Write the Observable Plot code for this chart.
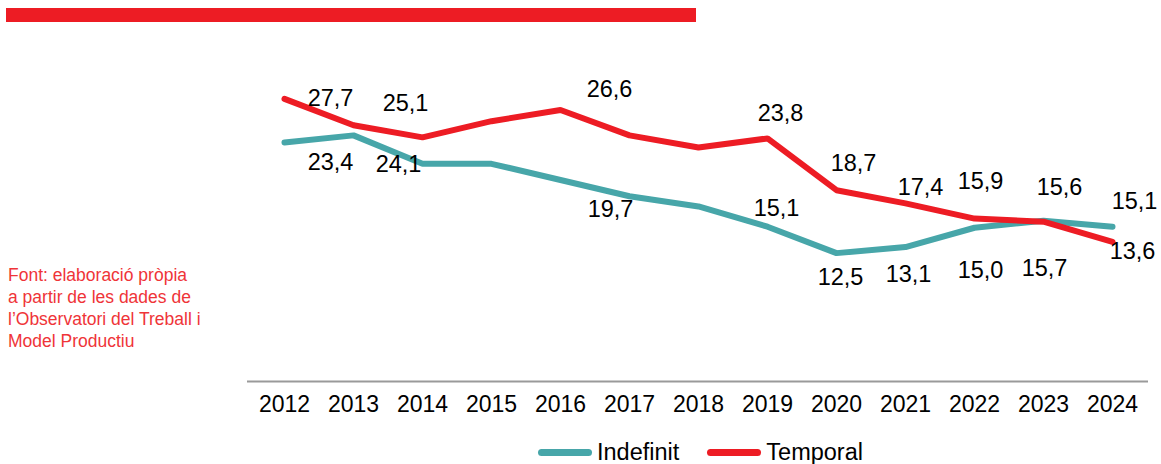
<!DOCTYPE html>
<html>
<head>
<meta charset="utf-8">
<script src="https://cdn.jsdelivr.net/npm/d3@7"></script>
<script src="https://cdn.jsdelivr.net/npm/@observablehq/plot@0.6"></script>
<style>
  html, body { margin: 0; padding: 0; background: #fff; }
  body { width: 1161px; height: 464px; position: relative; overflow: hidden;
         font-family: "Liberation Sans", Arial, Helvetica, sans-serif; }
  #bar { position: absolute; left: 6px; top: 8px; width: 690px; height: 14px; background: #ED1C24; }
  #chart { position: absolute; left: 0; top: 40px; }
  #note { position: absolute; left: 8px; top: 264px; color: #EF3438; font-size: 17.5px;
          line-height: 22px; font-weight: 300; }
  #legend { position: absolute; left: 538px; top: 439px; display: flex; align-items: center;
            font-size: 23.5px; color: #000; }
  .sw { display: inline-block; width: 54px; height: 7px; border-radius: 4px; margin-right: 5px; }
  .item { display: flex; align-items: center; margin-right: 28px; }
</style>
</head>
<body>
<div id="bar"></div>
<div id="chart"></div>
<div id="note">Font: elaboració pròpia<br>a partir de les dades de<br>l’Observatori del Treball i<br>Model Productiu</div>
<div id="legend"></div>
<script>
// ---- data ----
const years = [2012, 2013, 2014, 2015, 2016, 2017, 2018, 2019, 2020, 2021, 2022, 2023, 2024];
const indefinit = [23.4, 24.1, 21.3, 21.3, 19.7, 18.1, 17.1, 15.1, 12.5, 13.1, 15.0, 15.7, 15.1];
const temporal  = [27.7, 25.1, 23.9, 25.5, 26.6, 24.1, 22.9, 23.8, 18.7, 17.4, 15.9, 15.6, 13.6];
const labelYears = [2012, 2013, 2016, 2019, 2020, 2021, 2022, 2023, 2024];
const seriesNames = ["Indefinit", "Temporal"];

// ---- rendering ----
const colors = {Indefinit: "#47A6A9", Temporal: "#ED1C24"};
const rows = [];
seriesNames.forEach((s, si) => {
  const vals = si === 0 ? indefinit : temporal;
  years.forEach((y, i) => rows.push({series: s, year: y, value: vals[i]}));
});
const labelRows = rows.filter(d => labelYears.includes(d.year));

// label offsets relative to the data point (as placed in the original)
const off = {
  "Temporal-2012": [46, 0], "Temporal-2013": [52, -22], "Temporal-2016": [49, -21],
  "Temporal-2019": [13, -25], "Temporal-2020": [17, -27], "Temporal-2021": [15, -16],
  "Temporal-2022": [6, -37], "Temporal-2023": [16, -34], "Temporal-2024": [20, 10],
  "Indefinit-2012": [46, 20], "Indefinit-2013": [45, 29], "Indefinit-2016": [50, 29],
  "Indefinit-2019": [9, -18], "Indefinit-2020": [4, 24], "Indefinit-2021": [3, 27],
  "Indefinit-2022": [6, 43], "Indefinit-2023": [1, 48], "Indefinit-2024": [22, -25]
};
const fmt = v => d3.format(".1f")(v).replace(".", ",");

const textMarks = labelRows.map(d => {
  const o = off[d.series + "-" + d.year] || [0, 0];
  return Plot.text([d], {x: "year", y: "value", text: d => fmt(d.value),
    dx: o[0], dy: o[1], fontSize: 23.5, fill: "#000"});
});

const plot = Plot.plot({
  width: 1161,
  height: 380,
  marginLeft: 247,
  marginRight: 13,
  marginTop: 35,
  marginBottom: 40.5,
  style: {fontFamily: "'Liberation Sans', Arial, Helvetica, sans-serif", fontSize: "23px", color: "#000", background: "transparent"},
  x: {type: "point", domain: years, padding: 0.5, label: null, tickSize: 0, tickPadding: 16, tickFormat: d => String(d)},
  y: {domain: [0, 30], axis: null},
  marks: [
    Plot.ruleY([0], {stroke: "#9a9a9a", strokeWidth: 2, dy: 1.5}),
    Plot.line(rows.filter(d => d.series === "Indefinit"), {x: "year", y: "value", stroke: colors.Indefinit, strokeWidth: 6, strokeLinecap: "round", strokeLinejoin: "miter"}),
    Plot.line(rows.filter(d => d.series === "Temporal"), {x: "year", y: "value", stroke: colors.Temporal, strokeWidth: 6, strokeLinecap: "round", strokeLinejoin: "miter"}),
    ...textMarks
  ]
});
document.getElementById("chart").appendChild(plot);

const legend = document.getElementById("legend");
seriesNames.forEach(s => {
  const item = document.createElement("div");
  item.className = "item";
  const sw = document.createElement("span");
  sw.className = "sw";
  sw.style.background = colors[s];
  const t = document.createElement("span");
  t.textContent = s;
  item.appendChild(sw); item.appendChild(t);
  legend.appendChild(item);
});
</script>
</body>
</html>
